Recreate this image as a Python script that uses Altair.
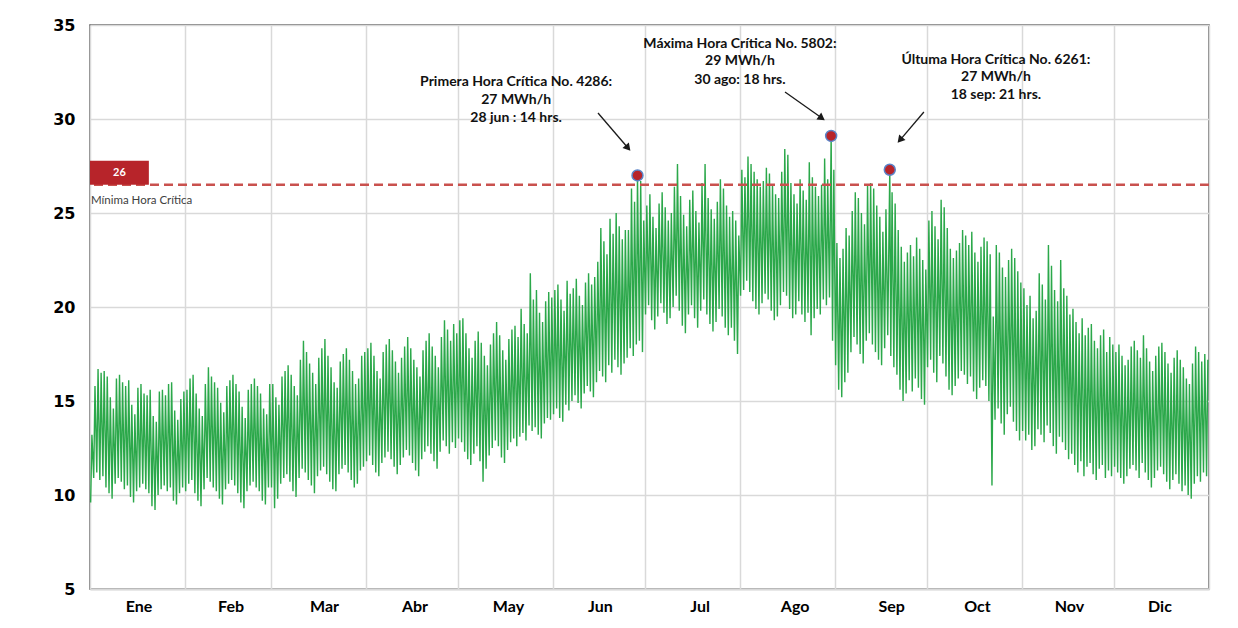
import altair as alt
import pandas as pd

# ---------------- data ----------------
months = ["Ene", "Feb", "Mar", "Abr", "May", "Jun", "Jul", "Ago", "Sep", "Oct", "Nov", "Dic"]
month_days = [31, 28, 31, 30, 31, 30, 31, 31, 30, 31, 30, 31]

# daily maximum (MWh/h)
max_ene = [13.2, 15.8, 16.7, 16.5, 16.6, 16.3, 15.2, 14.6, 16.2, 16.4,
           16.0, 15.8, 16.1, 14.8, 14.3, 15.7, 15.9, 15.4, 15.3, 15.6,
           14.2, 13.9, 15.5, 15.6, 15.3, 15.9, 16.0, 14.5, 14.0, 15.1, 15.5]
max_feb = [15.6, 16.2, 16.4, 15.4, 14.6, 14.2, 15.9, 16.8, 16.3, 16.0,
           15.7, 14.9, 14.4, 15.8, 16.1, 16.4, 15.9, 15.5, 14.7, 14.1,
           15.6, 15.9, 16.2, 15.8, 15.4, 14.6, 14.3, 15.9]
max_mar = [15.9, 15.2, 14.8, 16.3, 16.6, 16.9, 16.4, 15.8, 15.3, 17.2,
           18.2, 17.6, 17.0, 16.5, 15.9, 17.3, 17.8, 18.3, 17.4, 16.8,
           16.0, 15.7, 17.1, 17.5, 17.8, 17.2, 16.6, 15.9, 16.2, 17.4, 17.6]
max_abr = [17.8, 18.1, 17.4, 16.6, 16.2, 17.6, 18.0, 18.3, 17.7, 17.1,
           16.5, 17.3, 17.9, 18.4, 17.8, 17.2, 16.8, 16.3, 17.7, 18.2,
           18.6, 17.9, 17.4, 16.8, 18.4, 19.3, 18.8, 18.2, 19.1, 18.6]
max_may = [19.3, 19.4, 18.6, 17.8, 17.3, 18.2, 18.7, 18.1, 17.4, 16.9,
           18.0, 18.6, 19.2, 18.5, 17.7, 17.2, 18.3, 18.8, 19.0, 18.4,
           19.9, 19.1, 18.6, 21.8, 20.4, 20.9, 19.7, 19.2, 20.3, 20.8, 20.5]
max_jun = [20.9, 21.2, 20.4, 19.8, 21.4, 20.7, 21.0, 21.5, 20.6, 20.1,
           21.3, 21.8, 21.2, 21.6, 22.4, 24.2, 23.5, 22.8, 24.7, 23.9,
           25.0, 24.3, 23.6, 24.1, 24.1, 26.3, 25.6, 27.0, 26.7, 24.6]
max_jul = [25.4, 26.0, 24.8, 24.2, 25.5, 26.1, 25.3, 24.6, 25.0, 26.4,
           27.6, 25.9, 24.9, 24.3, 25.7, 26.2, 25.1, 24.5, 26.6, 27.6,
           25.8, 25.2, 24.7, 25.6, 26.8, 26.3, 25.4, 24.8, 25.1, 24.6, 23.8]
max_ago = [27.3, 26.9, 28.0, 27.6, 27.2, 26.8, 26.4, 26.7, 27.4, 27.1,
           26.5, 26.0, 25.8, 27.2, 28.4, 28.1, 26.6, 26.0, 25.5, 26.8,
           26.2, 25.7, 27.7, 26.9, 26.4, 25.9, 26.5, 27.9, 26.8, 29.1, 27.3]
max_sep = [23.4, 22.6, 23.1, 24.2, 23.8, 25.1, 26.1, 25.8, 25.0, 24.4,
           26.5, 26.6, 26.3, 25.4, 24.8, 24.0, 25.2, 27.3, 26.1, 25.5,
           24.1, 23.2, 22.4, 22.9, 23.3, 22.7, 23.7, 23.1, 22.5, 22.0]
max_oct = [24.6, 25.1, 24.3, 23.6, 25.7, 25.3, 24.2, 23.1, 22.6, 23.0,
           23.4, 24.1, 23.8, 23.3, 24.0, 22.9, 22.4, 23.2, 23.7, 23.5,
           22.8, 19.5, 23.3, 22.9, 22.1, 21.6, 22.5, 23.1, 22.6, 21.9, 21.3]
max_nov = [21.0, 20.1, 20.6, 19.4, 19.8, 21.8, 21.2, 20.4, 23.3, 22.2,
           20.9, 20.3, 22.5, 21.0, 20.6, 19.6, 19.9, 19.2, 18.6, 19.4,
           18.5, 18.9, 19.1, 18.2, 17.8, 18.5, 18.8, 17.6, 18.4, 18.0]
max_dic = [17.6, 18.0, 17.4, 16.9, 17.2, 17.9, 18.2, 17.7, 17.3, 18.5,
           17.8, 17.1, 16.6, 17.4, 17.9, 18.1, 17.6, 17.0, 16.5, 17.3,
           17.7, 17.2, 16.8, 16.2, 15.9, 17.0, 17.9, 17.6, 17.1, 17.5, 17.2]

# daily minimum (MWh/h)
min_ene = [9.6, 10.9, 11.2, 10.8, 11.0, 10.4, 10.1, 9.8, 10.6, 10.9,
           10.7, 10.3, 10.5, 9.9, 9.6, 10.2, 10.4, 10.6, 10.3, 10.1,
           9.4, 9.2, 10.0, 10.3, 10.5, 10.2, 10.4, 9.7, 9.5, 10.1, 10.4]
min_feb = [10.2, 10.6, 10.8, 10.1, 9.7, 9.4, 10.3, 10.9, 10.7, 10.4,
           10.2, 9.8, 9.5, 10.3, 10.6, 10.8, 10.5, 10.1, 9.6, 9.3,
           10.2, 10.5, 10.7, 10.4, 10.2, 9.7, 9.5, 10.4]
min_mar = [10.4, 9.3, 9.8, 10.6, 10.9, 11.1, 10.7, 10.2, 9.9, 10.9,
           11.4, 11.2, 10.8, 10.5, 10.1, 11.0, 11.3, 11.5, 11.1, 10.7,
           10.3, 10.2, 11.1, 11.4, 11.6, 11.2, 10.8, 10.4, 10.6, 11.3, 11.5]
min_abr = [11.8, 12.1, 11.6, 11.2, 11.0, 11.7, 12.0, 12.3, 11.9, 11.5,
           11.1, 11.6, 12.0, 12.4, 12.1, 11.7, 11.3, 11.0, 11.9, 12.3,
           12.6, 12.2, 11.8, 11.4, 12.3, 12.9, 12.6, 12.2, 12.8, 12.5]
min_may = [13.0, 12.8, 12.3, 11.9, 11.6, 12.2, 12.6, 11.8, 10.7, 11.4,
           12.1, 12.5, 12.9, 12.6, 12.0, 11.7, 12.4, 12.8, 13.0, 12.6,
           13.1, 13.3, 12.9, 13.7, 13.4, 13.6, 13.2, 13.0, 13.8, 14.1, 14.0]
min_jun = [14.3, 14.6, 14.1, 13.9, 14.8, 14.5, 15.0, 15.3, 14.9, 14.6,
           15.4, 15.8, 15.5, 15.2, 16.0, 16.6, 16.3, 16.0, 16.9, 16.5,
           17.2, 16.8, 16.4, 17.0, 17.3, 17.8, 17.4, 18.0, 18.2, 17.6]
min_jul = [19.6, 20.1, 19.3, 18.8, 19.5, 20.2, 19.7, 19.1, 19.4, 20.0,
           20.6, 19.8, 19.0, 18.6, 19.6, 20.1, 19.4, 18.9, 19.8, 20.4,
           19.6, 19.1, 18.7, 19.2, 19.9, 19.5, 18.9, 18.5, 18.9, 18.2, 17.5]
min_ago = [20.6, 20.9, 21.4, 20.8, 20.3, 19.9, 19.6, 20.2, 20.7, 20.4,
           19.8, 19.3, 19.5, 20.1, 20.8, 20.6, 19.9, 19.4, 19.6, 20.3,
           19.6, 19.2, 19.7, 18.5, 19.4, 19.9, 19.6, 20.4, 20.1, 20.5, 18.2]
min_sep = [16.9, 15.6, 15.2, 16.0, 16.5, 17.6, 18.4, 18.0, 17.5, 17.0,
           18.2, 18.6, 18.0, 17.6, 17.2, 16.9, 17.8, 18.5, 17.4, 16.8,
           16.4, 15.6, 15.0, 15.4, 16.1, 15.5, 16.2, 15.7, 15.1, 14.8]
min_oct = [16.8, 17.2, 16.5, 16.0, 17.4, 17.0, 16.3, 15.6, 15.3, 15.8,
           16.2, 16.6, 16.4, 15.9, 16.3, 15.5, 15.1, 15.7, 16.1, 15.8,
           15.0, 10.5, 14.0, 14.6, 13.8, 13.2, 14.3, 14.7, 13.9, 13.4, 12.9]
min_nov = [13.4, 12.9, 13.2, 12.4, 12.6, 13.5, 13.2, 12.8, 13.7, 13.3,
           12.6, 12.2, 13.1, 12.8, 12.4, 11.9, 12.2, 11.6, 11.2, 11.8,
           11.0, 11.5, 11.7, 11.1, 10.8, 11.4, 11.6, 10.9, 11.3, 11.0]
min_dic = [11.5, 11.2, 10.9, 10.6, 11.0, 11.4, 11.6, 11.3, 10.9, 11.7,
           11.2, 10.8, 10.4, 10.9, 11.3, 11.5, 11.1, 10.7, 10.3, 10.8,
           11.1, 10.6, 10.2, 10.5, 10.0, 9.8, 10.6, 11.0, 10.7, 11.2, 11.0]

# critical hours (day of year 0-based, hour, value)
crit_day = [178, 241, 260]
crit_hour = [14, 18, 21]
crit_value = [27.0, 29.1, 27.3]
threshold = 26.5
threshold_label = "26"

ann_lines = [
    ["Primera Hora Crítica No. 4286:", "27 MWh/h", "28 jun : 14 hrs."],
    ["Máxima Hora Crítica No. 5802:", "29 MWh/h", "30 ago: 18 hrs."],
    ["Últuma Hora Crítica No. 6261:", "27 MWh/h", "18 sep: 21 hrs."],
]

# month label positions (day of year)
month_label_x = [16.0, 46.0, 76.5, 106.0, 136.5, 166.5, 199.0, 230.0, 261.5, 289.5, 319.5, 349.0]

# ---------------- build tables ----------------
daily_max = (max_ene + max_feb + max_mar + max_abr + max_may + max_jun +
             max_jul + max_ago + max_sep + max_oct + max_nov + max_dic)
daily_min = (min_ene + min_feb + min_mar + min_abr + min_may + min_jun +
             min_jul + min_ago + min_sep + min_oct + min_nov + min_dic)
assert len(daily_max) == 365 and len(daily_min) == 365

peak_hour = {d: h for d, h in zip(crit_day, crit_hour)}
rows = []
for d in range(365):
    rows.append({"x": d + 5 / 24, "v": daily_min[d]})
    rows.append({"x": d + peak_hour.get(d, 15) / 24, "v": daily_max[d]})
line_df = pd.DataFrame(rows)

starts = [0]
for n in month_days:
    starts.append(starts[-1] + n)
month_df = pd.DataFrame({"m": months, "mid": month_label_x})

crit_df = pd.DataFrame({"x": [d + h / 24 for d, h in zip(crit_day, crit_hour)],
                        "v": crit_value})

# annotation anchor positions (day, value)
ann_x = [139.0, 212.0, 295.5]
ann_y = [[31.97, 31.01, 30.05], [33.99, 33.09, 32.07], [33.14, 32.23, 31.28]]
ann_rows = []
for i in range(3):
    for j in range(3):
        ann_rows.append({"x": ann_x[i], "y": ann_y[i][j], "t": ann_lines[i][j]})
ann_df = pd.DataFrame(ann_rows)

arrow_df = pd.DataFrame({
    "x": [165.7, 226.7, 272.0], "y": [30.32, 31.44, 30.37],
    "x2": [175.5, 238.7, 264.2], "y2": [28.46, 30.05, 28.88],
    "ang": [139.4, 125.1, 220.6],
})

W, H = 1119, 564
xs = alt.Scale(domain=[0, 365], nice=False, zero=False)
ys = alt.Scale(domain=[5, 35], nice=False, zero=False)

base_x_axis = alt.Axis(values=starts, labels=False, ticks=False, title=None,
                       grid=True, gridColor="#d9d9d9", gridWidth=1.5,
                       domainColor="#d9d9d9", domainWidth=2)
base_y_axis = alt.Axis(values=[5, 10, 15, 20, 25, 30, 35], title=None, ticks=False,
                       domain=False, grid=True, gridColor="#d9d9d9", gridWidth=1.5,
                       labelFont="DejaVu Sans", labelFontWeight="bold",
                       labelFontSize=16, labelColor="#000000", labelPadding=15)

line = alt.Chart(line_df).mark_line(color="#2BA84A", strokeWidth=1.4).encode(
    x=alt.X("x:Q", scale=xs, axis=base_x_axis),
    y=alt.Y("v:Q", scale=ys, axis=base_y_axis),
)

thr_df = pd.DataFrame({"v": [threshold]})
rule = alt.Chart(thr_df).mark_rule(color="#C9514E", strokeWidth=2.5,
                                   strokeDash=[9, 5]).encode(y=alt.Y("v:Q", scale=ys))

box_df = pd.DataFrame({"x": [0.0], "x2": [19.2], "y": [threshold], "y2": [27.78],
                       "xm": [9.6], "ym": [27.14], "t": [threshold_label]})
box = alt.Chart(box_df).mark_rect(color="#B7242A").encode(
    x=alt.X("x:Q", scale=xs), x2="x2:Q", y=alt.Y("y:Q", scale=ys), y2="y2:Q")
box_txt = alt.Chart(box_df).mark_text(color="white", font="Lato", fontWeight="bold",
                                      fontSize=11).encode(
    x=alt.X("xm:Q", scale=xs), y=alt.Y("ym:Q", scale=ys), text="t:N")

lab_df = pd.DataFrame({"x": [0.3], "y": [25.64], "t": ["Mínima Hora Crítica"]})
lab = alt.Chart(lab_df).mark_text(align="left", color="#404040", font="Lato",
                                  fontSize=11.5).encode(
    x=alt.X("x:Q", scale=xs), y=alt.Y("y:Q", scale=ys), text="t:N")

dots = alt.Chart(crit_df).mark_point(filled=True, fill="#B7242A", stroke="#5B84C8",
                                     strokeWidth=1.5, opacity=1, size=120,
                                     shape="circle").encode(
    x=alt.X("x:Q", scale=xs), y=alt.Y("v:Q", scale=ys))

ann = alt.Chart(ann_df).mark_text(font="Lato", fontWeight="bold", fontSize=14,
                                  color="#111111", align="center",
                                  baseline="middle").encode(
    x=alt.X("x:Q", scale=xs), y=alt.Y("y:Q", scale=ys), text="t:N")

arr = alt.Chart(arrow_df).mark_rule(color="#1a1a1a", strokeWidth=1.3).encode(
    x=alt.X("x:Q", scale=xs), y=alt.Y("y:Q", scale=ys), x2="x2:Q", y2="y2:Q")
heads = alt.Chart(arrow_df).mark_point(shape="triangle-up", filled=True,
                                       color="#1a1a1a", opacity=1, size=70).encode(
    x=alt.X("x2:Q", scale=xs), y=alt.Y("y2:Q", scale=ys),
    angle=alt.Angle("ang:Q", scale=None))

mlabels = alt.Chart(month_df).mark_text(font="Lato", fontWeight="bold", fontSize=16,
                                        color="#000000", baseline="middle").encode(
    x=alt.X("mid:Q", scale=xs), y=alt.value(H + 18), text="m:N")

chart = alt.layer(line, rule, box, box_txt, lab, dots, arr, heads, ann, mlabels).properties(
    width=W, height=H,
    autosize=alt.AutoSizeParams(type="none"),
    padding={"left": 82, "top": 17, "right": 13, "bottom": 35},
    background="white",
).configure_view(stroke="#595959", strokeWidth=1.5)

chart.save("out.html", embed_options={"renderer": "svg", "actions": False})
